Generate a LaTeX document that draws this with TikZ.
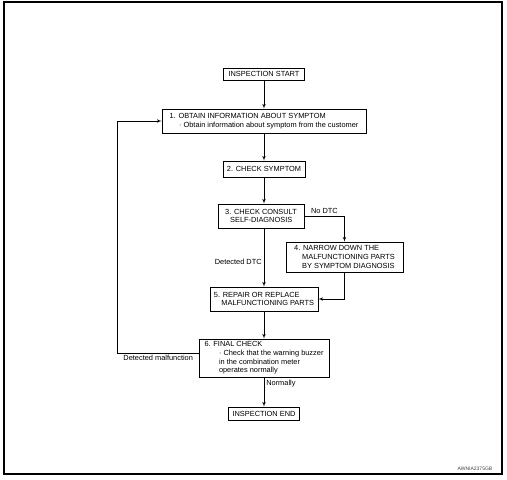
\documentclass[tikz,border=0pt]{standalone}
\usepackage{fontspec}
\setmainfont{Liberation Sans}
\usetikzlibrary{arrows}
\begin{document}
\begin{tikzpicture}[x=1pt,y=-1pt]
	\tikzset{box/.style = {shape=rectangle,draw,line width=.6pt,inner xsep=4pt,inner ysep=2pt,font=\fontsize{7.4}{8.7}\selectfont}}
	\tikzset{stepbox/.style = {box,align=left}}
	\tikzset{edge/.style = {->,> = latex',line width=.6pt}}
	\tikzset{lbl/.style = {font=\fontsize{7.4}{8.7}\selectfont,inner sep=2pt}}
	\useasboundingbox (0,0) rectangle (507,480);
	\draw[line width=1.2pt] (4,2) rectangle (502,474);
	\node[box,minimum width=81pt,minimum height=12pt] (start) at (264,74) {INSPECTION START};
	\node[stepbox,minimum width=204pt,minimum height=24pt] (s1) at (264,121) {1. OBTAIN INFORMATION ABOUT SYMPTOM\\\hspace*{9.5pt}· Obtain information about symptom from the customer};
	\node[box,minimum width=82pt,minimum height=16pt] (s2) at (264,169) {2. CHECK SYMPTOM};
	\node[stepbox,minimum width=86pt,minimum height=24pt] (s3) at (261,216) {3. CHECK CONSULT\\\hspace*{5pt}SELF-DIAGNOSIS};
	\node[stepbox,minimum width=117pt,minimum height=30pt] (s4) at (344.5,257) {4. NARROW DOWN THE\\\hspace*{8pt}MALFUNCTIONING PARTS\\\hspace*{8pt}BY SYMPTOM DIAGNOSIS};
	\node[stepbox,minimum width=108pt,minimum height=24pt] (s5) at (264,299) {5. REPAIR OR REPLACE\\\hspace*{7.5pt}MALFUNCTIONING PARTS};
	\node[stepbox,minimum width=130pt,minimum height=38pt] (s6) at (264,358) {6. FINAL CHECK\\\hspace*{14.5pt}· Check that the warning buzzer\\\hspace*{14.5pt}in the combination meter\\\hspace*{14.5pt}operates normally};
	\node[box,minimum width=69pt,minimum height=13pt] (end) at (264,413.5) {INSPECTION END};
	\node[font=\fontsize{5}{5}\selectfont,text=black!75,inner sep=0pt] (code) at (475,468.5) {AWNIA2375GB};
	\path[edge] (start) edge (s1);
	\path[edge] (s1) edge (s2);
	\path[edge] (s2) edge (s2 |- s3.north);
	\draw[edge] (s3) -| node[pos=.25,above,lbl] {No DTC} (s4);
	\draw[edge] (s3.south -| s2) -- node[pos=.58,left,lbl] {Detected DTC} (s5.north -| s2);
	\draw[edge] (s4) |- (s5);
	\path[edge] (s5) edge (s6);
	\draw[edge] ([yshift=5pt]s6.west) -- node[below,lbl] {Detected malfunction} ++(-81,0) |- (s1);
	\path[edge] (s6) edge node[pos=.2,right,lbl] {Normally} (end);
\end{tikzpicture}
\end{document}
